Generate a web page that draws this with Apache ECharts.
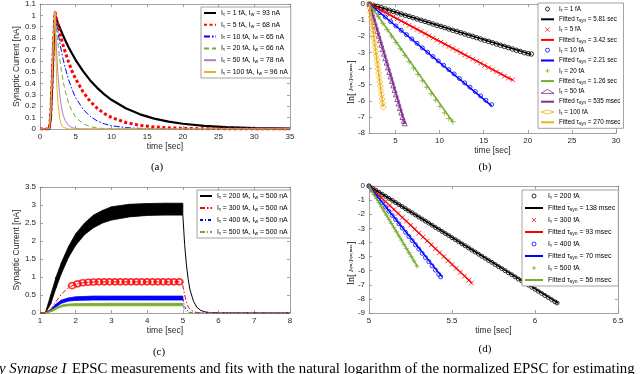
<!DOCTYPE html>
<html>
<head>
<meta charset="utf-8">
<script src="https://cdn.jsdelivr.net/npm/echarts@6/dist/echarts.min.js"></script>
<style>
  html, body { margin: 0; padding: 0; background: #fff; }
  #chart { width: 640px; height: 374px; }
</style>
</head>
<body>
<div id="chart"></div>
<script>
const FONT = "Liberation Sans";
const SERIF = "Liberation Serif";

// ---------- (a) EPSC traces ----------
const timeA = [0, 1.3, 1.5, 1.7, 1.9, 2.1, 2.2, 2.3, 2.4, 2.5, 2.75, 3, 3.25, 3.5, 4, 4.5, 5, 6, 7, 8, 9, 10, 12, 14, 16, 18, 20, 23, 26, 30, 35];
const epsc1fA = [0, 0, 0.1, 0.4, 0.74, 1.0, 0.983, 0.966, 0.95, 0.934, 0.894, 0.857, 0.82, 0.786, 0.72, 0.662, 0.607, 0.511, 0.43, 0.362, 0.305, 0.257, 0.182, 0.129, 0.091, 0.065, 0.046, 0.027, 0.016, 0.008, 0.004];
const epsc5fA = [0, 0, 0.12, 0.42, 0.76, 1.03, 1.0, 0.971, 0.943, 0.916, 0.853, 0.79, 0.735, 0.682, 0.589, 0.507, 0.44, 0.329, 0.245, 0.183, 0.136, 0.102, 0.057, 0.032, 0.018, 0.01, 0.006, 0.002, 0.001, 0, 0];
const epsc10fA = [0, 0, 0.12, 0.43, 0.77, 1.03, 0.985, 0.942, 0.9, 0.861, 0.768, 0.685, 0.611, 0.546, 0.434, 0.346, 0.275, 0.176, 0.112, 0.071, 0.046, 0.029, 0.012, 0.005, 0.002, 0.001, 0, 0, 0, 0, 0];
const epsc20fA = [0, 0, 0.13, 0.44, 0.78, 1.04, 0.96, 0.885, 0.817, 0.754, 0.622, 0.508, 0.417, 0.342, 0.229, 0.154, 0.103, 0.047, 0.021, 0.009, 0.004, 0.002, 0, 0, 0, 0, 0, 0, 0, 0, 0];
const epsc50fA = [0, 0, 0.13, 0.45, 0.8, 1.04, 0.864, 0.72, 0.6, 0.492, 0.308, 0.193, 0.121, 0.076, 0.03, 0.012, 0.005, 0.001, 0, 0, 0, 0, 0, 0, 0, 0, 0, 0, 0, 0, 0];
const epsc100fA = [0, 0, 0.14, 0.47, 0.82, 1.03, 0.71, 0.49, 0.34, 0.235, 0.093, 0.036, 0.014, 0.006, 0.001, 0, 0, 0, 0, 0, 0, 0, 0, 0, 0, 0, 0, 0, 0, 0, 0];
const namesA = ["I_τ = 1 fA, I_w = 93 nA", "I_τ = 5 fA, I_w = 68 nA", "I_τ = 10 fA, I_w = 65 nA",
  "I_τ = 20 fA, I_w = 66 nA", "I_τ = 50 fA, I_w = 78 nA", "I_τ = 100 fA, I_w = 96 nA"];

// ---------- (b) ln of normalized EPSC, long time constants ----------
const lnB1fA = [[2.05,0],[2.5,-0.08],[2.95,-0.15],[3.4,-0.23],[3.85,-0.31],[4.3,-0.39],[4.75,-0.46],[5.2,-0.54],[5.65,-0.62],[6.1,-0.7],[6.55,-0.77],[7,-0.85],[7.45,-0.93],[7.9,-1.01],[8.35,-1.08],[8.8,-1.16],[9.25,-1.24],[9.7,-1.32],[10.15,-1.39],[10.6,-1.47],[11.05,-1.55],[11.5,-1.63],[11.95,-1.7],[12.4,-1.78],[12.85,-1.86],[13.3,-1.94],[13.75,-2.01],[14.2,-2.09],[14.65,-2.17],[15.1,-2.25],[15.55,-2.32],[16,-2.4],[16.45,-2.48],[16.9,-2.56],[17.35,-2.63],[17.8,-2.71],[18.25,-2.79],[18.7,-2.87],[19.15,-2.94],[19.6,-3.02],[20.05,-3.08],[20.4,-3.1]];
const lnB5fA = [[2.05,0],[2.5,-0.13],[2.95,-0.26],[3.4,-0.39],[3.85,-0.53],[4.3,-0.66],[4.75,-0.79],[5.2,-0.92],[5.65,-1.05],[6.1,-1.18],[6.55,-1.32],[7,-1.45],[7.45,-1.58],[7.9,-1.71],[8.35,-1.84],[8.8,-1.97],[9.25,-2.11],[9.7,-2.24],[10.15,-2.37],[10.6,-2.5],[11.05,-2.63],[11.5,-2.76],[11.95,-2.89],[12.4,-3.03],[12.85,-3.16],[13.3,-3.29],[13.75,-3.42],[14.2,-3.55],[14.65,-3.68],[15.1,-3.82],[15.55,-3.95],[16,-4.08],[16.45,-4.21],[16.9,-4.34],[17.35,-4.47],[17.8,-4.6],[18.28,-4.7]];
const lnB10fA = [[2.05,0],[2.65,-0.27],[3.25,-0.54],[3.85,-0.81],[4.45,-1.09],[5.05,-1.36],[5.65,-1.63],[6.25,-1.9],[6.85,-2.17],[7.45,-2.44],[8.05,-2.72],[8.65,-2.99],[9.25,-3.26],[9.85,-3.53],[10.45,-3.8],[11.05,-4.07],[11.65,-4.34],[12.25,-4.62],[12.85,-4.89],[13.45,-5.16],[14.05,-5.43],[14.65,-5.7],[15.25,-5.97],[15.9,-6.24]];
const lnB20fA = [[2.05,0],[2.55,-0.4],[3.05,-0.79],[3.55,-1.19],[4.05,-1.59],[4.55,-1.99],[5.05,-2.38],[5.55,-2.78],[6.05,-3.18],[6.55,-3.57],[7.05,-3.97],[7.55,-4.37],[8.05,-4.76],[8.55,-5.16],[9.05,-5.56],[9.55,-5.96],[10.05,-6.35],[10.55,-6.75],[11.05,-7.1],[11.5,-7.3]];
const lnB50fA = [[2.05,0],[2.2,-0.28],[2.35,-0.56],[2.5,-0.84],[2.65,-1.12],[2.8,-1.4],[2.95,-1.68],[3.1,-1.96],[3.25,-2.24],[3.4,-2.52],[3.55,-2.8],[3.7,-3.08],[3.85,-3.36],[4,-3.64],[4.15,-3.93],[4.3,-4.21],[4.45,-4.49],[4.6,-4.77],[4.75,-5.05],[4.9,-5.33],[5.05,-5.61],[5.2,-5.89],[5.35,-6.17],[5.5,-6.45],[5.65,-6.73],[5.8,-7.01],[5.95,-7.25],[6.05,-7.4]];
const lnB100fA = [[2.05,0],[2.115,-0.27],[2.18,-0.54],[2.245,-0.8],[2.31,-1.07],[2.375,-1.34],[2.44,-1.61],[2.505,-1.87],[2.57,-2.14],[2.635,-2.41],[2.7,-2.68],[2.765,-2.95],[2.83,-3.21],[2.895,-3.48],[2.96,-3.75],[3.025,-4.02],[3.09,-4.28],[3.155,-4.55],[3.22,-4.82],[3.285,-5.09],[3.35,-5.36],[3.415,-5.62],[3.48,-5.89],[3.545,-6.16],[3.6,-6.39]];
const fitB = [
  [[2.05, 0], [20.4, -3.13]],
  [[2.05, 0], [18.3, -4.72]],
  [[2.05, 0], [15.9, -6.32]],
  [[2.05, 0], [11.5, -7.32]],
  [[2.05, 0], [6.05, -7.42]],
  [[2.05, 0], [3.6, -6.38]]
];
const markerNamesB = ["I_τ = 1 fA", "I_τ = 5 fA", "I_τ = 10 fA", "I_τ = 20 fA", "I_τ = 50 fA", "I_τ = 100 fA"];
const fitNamesB = ["Fitted τ_syn = 5.81 sec", "Fitted τ_syn = 3.42 sec", "Fitted τ_syn = 2.21 sec",
  "Fitted τ_syn = 1.26 sec", "Fitted τ_syn = 535 msec", "Fitted τ_syn = 270 msec"];

// ---------- (c) EPSC under a 4 s spike train ----------
const timeC200 = [1.0, 1.15, 1.3, 1.45, 1.6, 1.8, 2.0, 2.25, 2.5, 2.75, 3.0, 3.5, 4.0, 4.5, 5.0];
const lowC200 = [0, 0, 0.25, 0.7, 1.1, 1.55, 1.88, 2.18, 2.37, 2.5, 2.58, 2.67, 2.71, 2.72, 2.72];
const highC200 = [0, 0, 0.5, 1.0, 1.4, 1.85, 2.2, 2.5, 2.72, 2.85, 2.95, 3.02, 3.04, 3.05, 3.05];
const decayC200 = [[5.0,2.72],[5.05,1.9],[5.1,1.33],[5.15,0.93],[5.2,0.64],[5.3,0.32],[5.4,0.15],[5.5,0.075],[5.6,0.036],[5.75,0.012],[6.0,0.002],[8.0,0]];
const traceC300 = [[1.0,0],[1.15,0],[1.3,0.1],[1.45,0.32],[1.6,0.52],[1.75,0.67],[1.9,0.76],[2.05,0.81],[2.2,0.84],[2.5,0.86],[3.0,0.865],[4.0,0.865],[4.98,0.865],[5.0,0.85],[5.05,0.5],[5.1,0.3],[5.15,0.17],[5.2,0.1],[5.3,0.035],[5.4,0.012],[5.5,0.004],[6.0,0],[8.0,0]];
const ringsC300 = [[1.9,0.76],[2.05,0.81],[2.2,0.84],[2.35,0.855],[2.5,0.86],[2.65,0.865],[2.8,0.865],[2.95,0.865],[3.1,0.865],[3.25,0.865],[3.4,0.865],[3.55,0.865],[3.7,0.865],[3.85,0.865],[4.0,0.865],[4.15,0.865],[4.3,0.865],[4.45,0.865],[4.6,0.865],[4.75,0.865],[4.9,0.865]];
const timeC400 = [1.0, 1.15, 1.3, 1.45, 1.6, 1.8, 2.0, 2.5, 3.0, 4.0, 5.0];
const lowC400 = [0, 0, 0.05, 0.17, 0.27, 0.33, 0.35, 0.36, 0.36, 0.36, 0.36];
const highC400 = [0, 0.01, 0.1, 0.25, 0.36, 0.42, 0.45, 0.47, 0.47, 0.47, 0.47];
const decayC400 = [[5.0,0.4],[5.03,0.26],[5.06,0.16],[5.1,0.09],[5.15,0.04],[5.2,0.015],[5.3,0.003],[5.5,0],[8.0,0]];
const timeC500 = [1.0, 1.2, 1.35, 1.5, 1.65, 1.8, 2.0, 3.0, 4.0, 5.0];
const lowC500 = [0, 0, 0.05, 0.13, 0.18, 0.2, 0.2, 0.2, 0.2, 0.2];
const highC500 = [0, 0.02, 0.1, 0.18, 0.23, 0.25, 0.26, 0.27, 0.27, 0.27];
const decayC500 = [[5.0,0.23],[5.03,0.12],[5.06,0.06],[5.1,0.025],[5.15,0.008],[5.2,0.002],[5.4,0],[8.0,0]];
const namesC = ["I_τ = 200 fA, I_w = 500 nA", "I_τ = 300 fA, I_w = 500 nA", "I_τ = 400 fA, I_w = 500 nA", "I_τ = 500 fA, I_w = 500 nA"];

// ---------- (d) ln of normalized EPSC, short time constants ----------
const lnD200fA = [[5,0],[5.02,-0.15],[5.04,-0.29],[5.06,-0.44],[5.08,-0.59],[5.1,-0.73],[5.12,-0.88],[5.14,-1.02],[5.16,-1.17],[5.18,-1.32],[5.2,-1.46],[5.22,-1.61],[5.24,-1.76],[5.26,-1.9],[5.28,-2.05],[5.3,-2.2],[5.32,-2.34],[5.34,-2.49],[5.36,-2.63],[5.38,-2.78],[5.4,-2.93],[5.42,-3.07],[5.44,-3.22],[5.46,-3.37],[5.48,-3.51],[5.5,-3.66],[5.52,-3.8],[5.54,-3.95],[5.56,-4.1],[5.58,-4.24],[5.6,-4.39],[5.62,-4.54],[5.64,-4.68],[5.66,-4.83],[5.68,-4.98],[5.7,-5.12],[5.72,-5.27],[5.74,-5.41],[5.76,-5.56],[5.78,-5.71],[5.8,-5.85],[5.82,-6],[5.84,-6.15],[5.86,-6.29],[5.88,-6.44],[5.9,-6.59],[5.92,-6.73],[5.94,-6.88],[5.96,-7.02],[5.98,-7.17],[6,-7.32],[6.02,-7.46],[6.04,-7.61],[6.06,-7.76],[6.08,-7.9],[6.1,-8.05],[6.12,-8.2],[6.133,-8.29]];
const lnD300fA = [[5,0],[5.025,-0.28],[5.05,-0.56],[5.075,-0.83],[5.1,-1.11],[5.125,-1.39],[5.15,-1.67],[5.175,-1.95],[5.2,-2.23],[5.225,-2.5],[5.25,-2.78],[5.275,-3.06],[5.3,-3.34],[5.325,-3.62],[5.35,-3.9],[5.375,-4.17],[5.4,-4.45],[5.425,-4.73],[5.45,-5.01],[5.475,-5.29],[5.5,-5.57],[5.525,-5.84],[5.55,-6.12],[5.575,-6.4],[5.6,-6.68],[5.617,-6.87]];
const lnD400fA = [[5,0],[5.02,-0.3],[5.04,-0.6],[5.06,-0.89],[5.08,-1.19],[5.1,-1.49],[5.12,-1.79],[5.14,-2.09],[5.16,-2.38],[5.18,-2.68],[5.2,-2.98],[5.22,-3.28],[5.24,-3.58],[5.26,-3.87],[5.28,-4.17],[5.3,-4.47],[5.32,-4.77],[5.34,-5.07],[5.36,-5.36],[5.38,-5.66],[5.4,-5.96],[5.42,-6.26],[5.432,-6.44]];
const lnD500fA = [[5,0],[5.015,-0.29],[5.03,-0.59],[5.045,-0.88],[5.06,-1.18],[5.075,-1.47],[5.09,-1.77],[5.105,-2.06],[5.12,-2.36],[5.135,-2.65],[5.15,-2.95],[5.165,-3.24],[5.18,-3.54],[5.195,-3.83],[5.21,-4.13],[5.225,-4.42],[5.24,-4.72],[5.255,-5.01],[5.27,-5.31],[5.289,-5.68]];
const fitD = [
  [[5, 0], [6.14, -8.3]],
  [[5, 0], [5.62, -6.87]],
  [[5, 0], [5.44, -6.44]],
  [[5, 0], [5.29, -5.68]]
];
const markerNamesD = ["I_τ = 200 fA", "I_τ = 300 fA", "I_τ = 400 fA", "I_τ = 500 fA"];
const fitNamesD = ["Fitted τ_syn = 138 msec", "Fitted τ_syn = 93 msec", "Fitted τ_syn = 70 msec", "Fitted τ_syn = 56 msec"];

// ---------- styling ----------
const BLACK = "#000000", RED = "#ff0000", BLUE = "#0000ff", GREEN = "#77ac30", PURPLE = "#7e2f8e", ORANGE = "#edb120";
const CROSS = "path://M0,0L10,10M10,0L0,10";
const PLUS = "path://M5,0L5,10M0,5L10,5";

const axisColor = "#8c8c8c";
const lineStyleAxis = { color: axisColor, width: 0.8 };
const tickLabel = { color: "#262626", fontSize: 8, fontFamily: FONT, margin: 4 };
const nameStyle = { color: "#262626", fontSize: 8.5, fontFamily: FONT };

const xAxes = [];
const yAxes = [];

function addAxes(gi, xs, ys) {
  const xBase = {
    gridIndex: gi, type: "value", min: xs.min, max: xs.max, interval: xs.interval,
    splitLine: { show: false },
    axisLine: { show: true, onZero: false, lineStyle: lineStyleAxis },
    axisTick: { show: true, inside: true, length: 3, lineStyle: lineStyleAxis, customValues: xs.custom }
  };
  xAxes.push(Object.assign({}, xBase, {
    position: "bottom",
    axisLabel: Object.assign({}, tickLabel, { customValues: xs.custom }),
    name: "time [sec]", nameLocation: "middle", nameGap: xs.nameGap, nameTextStyle: nameStyle
  }));
  xAxes.push(Object.assign({}, xBase, { position: "top", axisLabel: { show: false } }));

  const yBase = {
    gridIndex: gi, type: "value", min: ys.min, max: ys.max, interval: ys.interval,
    splitLine: { show: false },
    axisLine: { show: true, onZero: false, lineStyle: lineStyleAxis },
    axisTick: { show: true, inside: true, length: 3, lineStyle: lineStyleAxis }
  };
  yAxes.push(Object.assign({}, yBase, {
    position: "left", axisLabel: tickLabel,
    name: ys.name || "", nameLocation: "middle", nameGap: 16, nameTextStyle: nameStyle
  }));
  yAxes.push(Object.assign({}, yBase, { position: "right", axisLabel: { show: false } }));
}

addAxes(0, { min: 0, max: 35, interval: 5, nameGap: 13 }, { min: 0, max: 1.1, interval: 0.1, name: "Synaptic Current [nA]" });
addAxes(1, { min: 2, max: 30, custom: [5, 10, 15, 20, 25, 30], nameGap: 13 }, { min: -8, max: 0, interval: 1 });
addAxes(2, { min: 1, max: 8, interval: 1, nameGap: 13 }, { min: 0, max: 3.5, interval: 0.5, name: "Synaptic Current [nA]" });
addAxes(3, { min: 5, max: 6.5, interval: 0.5, nameGap: 13 }, { min: -9, max: 0, interval: 1 });

function pairs(t, v) {
  return t.map((x, i) => [x, v[i]]);
}

function bandRows(t, lo, hi) {
  const rows = [];
  for (let i = 0; i < t.length - 1; i++) {
    rows.push([t[i], lo[i], hi[i], t[i + 1], lo[i + 1], hi[i + 1]]);
  }
  return rows;
}

function bandRenderer(color) {
  return function (params, api) {
    const a = api.coord([api.value(0), api.value(1)]);
    const b = api.coord([api.value(3), api.value(4)]);
    const c = api.coord([api.value(3), api.value(5)]);
    const d = api.coord([api.value(0), api.value(2)]);
    return {
      type: "polygon",
      shape: { points: [a, b, c, d] },
      style: { fill: color, stroke: color, lineWidth: 0.8 }
    };
  };
}

function line(gi, name, data, color, width, type) {
  return {
    type: "line", name: name, xAxisIndex: gi * 2, yAxisIndex: gi * 2,
    data: data, symbol: "none", showSymbol: false, silent: true,
    lineStyle: { color: color, width: width, type: type || "solid" },
    itemStyle: { color: color }
  };
}

function markers(gi, name, data, color, symbol, size) {
  return {
    type: "scatter", name: name, xAxisIndex: gi * 2, yAxisIndex: gi * 2,
    data: data, symbol: symbol, symbolSize: size, symbolKeepAspect: true, silent: true,
    itemStyle: { color: "rgba(0,0,0,0)", borderColor: color, borderWidth: 1 }
  };
}

function band(gi, name, rows, color) {
  return {
    type: "custom", name: name, xAxisIndex: gi * 2, yAxisIndex: gi * 2,
    data: rows, encode: { x: [0, 3], y: [1, 2, 4, 5] }, silent: true,
    renderItem: bandRenderer(color), itemStyle: { color: color }
  };
}

const series = [];

// (a)
const curvesA = [epsc1fA, epsc5fA, epsc10fA, epsc20fA, epsc50fA, epsc100fA];
const styleA = [
  [BLACK, 2.2, "solid"], [RED, 3, [3, 2.5]], [BLUE, 1, [6, 2, 1.5, 2]],
  [GREEN, 1, [5, 3]], ["#a983bd", 1, "solid"], [ORANGE, 1, "solid"]
];
curvesA.forEach((c, i) => {
  series.push(line(0, namesA[i], pairs(timeA, c), styleA[i][0], styleA[i][1], styleA[i][2]));
});

// (b)
const marksB = [lnB1fA, lnB5fA, lnB10fA, lnB20fA, lnB50fA, lnB100fA];
const colorsB = [BLACK, RED, BLUE, GREEN, PURPLE, ORANGE];
const symbolsB = [["circle", 4.5], [CROSS, 4.5], ["circle", 4], [PLUS, 5.5], ["triangle", 5], ["diamond", 6]];
marksB.forEach((m, i) => {
  series.push(markers(1, markerNamesB[i], m, colorsB[i], symbolsB[i][0], symbolsB[i][1]));
  series.push(line(1, fitNamesB[i], fitB[i], colorsB[i], 1.5));
});

// (c) line series first so the legend icons come from them
series.push(line(2, namesC[0], decayC200, BLACK, 1));
series.push(line(2, namesC[1], traceC300, RED, 1, [5, 2, 1.5, 2]));
series.push(line(2, namesC[2], decayC400, BLUE, 1, [3, 2, 1, 2]));
series.push(line(2, namesC[3], decayC500, GREEN, 1, [5, 2, 1, 2]));
series.push(band(2, namesC[0], bandRows(timeC200, lowC200, highC200), BLACK));
series.push(band(2, namesC[2], bandRows(timeC400, lowC400, highC400), BLUE));
series.push(band(2, namesC[3], bandRows(timeC500, lowC500, highC500), GREEN));
series.push(Object.assign(markers(2, namesC[1], ringsC300, RED, "circle", [7, 6]), {
  itemStyle: { color: "rgba(0,0,0,0)", borderColor: RED, borderWidth: 1.8 }
}));

// (d)
const marksD = [lnD200fA, lnD300fA, lnD400fA, lnD500fA];
const colorsD = [BLACK, RED, BLUE, GREEN];
const symbolsD = [["circle", 4], [CROSS, 4.5], ["circle", 4], [PLUS, 5]];
marksD.forEach((m, i) => {
  series.push(markers(3, markerNamesD[i], m, colorsD[i], symbolsD[i][0], symbolsD[i][1]));
  series.push(line(3, fitNamesD[i], fitD[i], colorsD[i], 1.5));
});

// legend entries for plain lines: hide the dot echarts puts on line icons
function lineEntry(n) {
  return { name: n, itemStyle: { opacity: 0 } };
}

function interleave(marks, fits) {
  const out = [];
  marks.forEach((n, i) => { out.push(n, lineEntry(fits[i])); });
  return out;
}

function legendText(size) {
  return {
    fontSize: size, color: "#000", fontFamily: FONT, lineHeight: 8,
    rich: { s: { fontSize: size * 0.72, fontFamily: FONT, lineHeight: 8, padding: [3, 0, 0, 0] } }
  };
}

function legend(data, left, top, opts) {
  return Object.assign({
    data: data, left: left, top: top, orient: "vertical", selectedMode: false,
    backgroundColor: "#fff", borderColor: "#8c8c8c", borderWidth: 0.8, borderRadius: 0,
    padding: [2, 3, 2, 2], itemWidth: 12, itemHeight: 5, itemGap: 3,
    textStyle: legendText(6.9),
    itemStyle: { borderWidth: 1 },
    formatter: (n) => n.replace(/_(τ|w|syn)/g, "{s|$1}")
  }, opts || {});
}

const option = {
  animation: false,
  backgroundColor: "#fff",
  grid: [
    { left: 40, top: 3, width: 250, height: 126 },
    { left: 369, top: 3, width: 247, height: 130 },
    { left: 40, top: 187, width: 250, height: 126 },
    { left: 369, top: 186, width: 249, height: 127 }
  ],
  xAxis: xAxes,
  yAxis: yAxes,
  legend: [
    legend(namesA.map(lineEntry), 201, 7, { itemGap: 3.8 }),
    legend(interleave(markerNamesB, fitNamesB), 538, 3, { itemGap: 2.3, itemWidth: 13, itemHeight: 4, textStyle: legendText(6.3) }),
    legend(namesC.map(lineEntry), 197, 190, { itemGap: 4 }),
    legend(interleave(markerNamesD, fitNamesD), 522, 190, { itemGap: 4, itemWidth: 18, itemHeight: 4 })
  ],
  series: series,
  graphic: [
    { type: "text", x: 157, y: 167, style: { text: "(a)", fontSize: 11, fontFamily: SERIF, fill: "#000", align: "center", verticalAlign: "middle" } },
    { type: "text", x: 485, y: 167, style: { text: "(b)", fontSize: 11, fontFamily: SERIF, fill: "#000", align: "center", verticalAlign: "middle" } },
    { type: "text", x: 159, y: 352, style: { text: "(c)", fontSize: 11, fontFamily: SERIF, fill: "#000", align: "center", verticalAlign: "middle" } },
    { type: "text", x: 485, y: 349, style: { text: "(d)", fontSize: 11, fontFamily: SERIF, fill: "#000", align: "center", verticalAlign: "middle" } },
    { type: "text", x: 351, y: 82, rotation: Math.PI / 2,
      style: { text: "{a|ln[}{b| I}{c|syn}{b|/I}{c|syn,max}{a|]}", align: "center", verticalAlign: "middle",
        rich: { a: { fontSize: 10, fontFamily: SERIF, fill: "#000" }, b: { fontSize: 6.5, fontFamily: SERIF, fontStyle: "italic", fill: "#000" }, c: { fontSize: 4.5, fontFamily: SERIF, fill: "#000" } } } },
    { type: "text", x: 351, y: 263, rotation: Math.PI / 2,
      style: { text: "{a|ln[}{b| I}{c|syn}{b|/I}{c|syn,max}{a|]}", align: "center", verticalAlign: "middle",
        rich: { a: { fontSize: 10, fontFamily: SERIF, fill: "#000" }, b: { fontSize: 6.5, fontFamily: SERIF, fontStyle: "italic", fill: "#000" }, c: { fontSize: 4.5, fontFamily: SERIF, fill: "#000" } } } },
    { type: "text", x: -1, y: 362, style: { text: "y Synapse I", fontSize: 14.8, fontFamily: SERIF, fontStyle: "italic", fill: "#000" } },
    { type: "text", x: 72, y: 362, style: { text: "EPSC measurements and fits with the natural logarithm of the normalized EPSC for estimating", fontSize: 14.8, fontFamily: SERIF, fill: "#000" } }
  ]
};

const chart = echarts.init(document.getElementById("chart"));
chart.setOption(option);
</script>
</body>
</html>
